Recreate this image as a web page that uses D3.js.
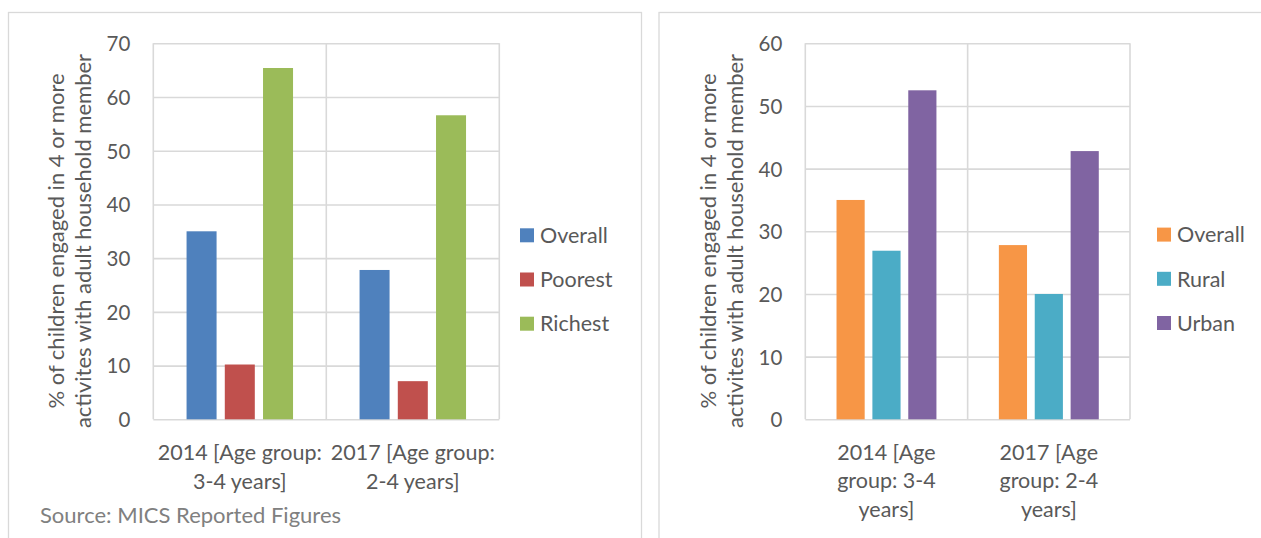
<!DOCTYPE html>
<html>
<head>
<meta charset="utf-8">
<script src="https://cdn.jsdelivr.net/npm/d3@7"></script>
<style>
  html, body { margin: 0; padding: 0; background: #ffffff; }
  svg { display: block; font-family: Lato, "Open Sans", sans-serif; }
</style>
</head>
<body>
<svg id="chart" width="1261" height="538"></svg>
<script>
// ---- Data -------------------------------------------------------------
const wealthCategories = ["2014", "2017"];
const wealthCategoryLines = [["2014 [Age group:", "3-4 years]"], ["2017 [Age group:", "2-4 years]"]];
const wealthSeriesNames = ["Overall", "Poorest", "Richest"];
const wealthOverall = [35.0, 27.8];
const wealthPoorest = [10.2, 7.1];
const wealthRichest = [65.4, 56.6];
const wealthTicks = [0, 10, 20, 30, 40, 50, 60, 70];

const areaCategories = ["2014", "2017"];
const areaCategoryLines = [["2014 [Age", "group: 3-4", "years]"], ["2017 [Age", "group: 2-4", "years]"]];
const areaSeriesNames = ["Overall", "Rural", "Urban"];
const areaOverall = [35.0, 27.8];
const areaRural = [26.9, 20.0];
const areaUrban = [52.5, 42.8];
const areaTicks = [0, 10, 20, 30, 40, 50, 60];

const yTitleLines = ["% of children engaged in 4 or more", "activites with adult household member"];
const sourceNote = "Source: MICS Reported Figures";

// ---- Styles -----------------------------------------------------------
const textColor = "#595959";
const gridColor = "#d9d9d9";
const tickSize = 20.5;
const labelSize = 21.5;
const titleSize = 22;

const svg = d3.select("#chart");

// Outer frames of the two panels
svg.append("rect").attr("x", 8.5).attr("y", 12.5).attr("width", 633).attr("height", 560)
  .attr("fill", "none").attr("stroke", gridColor).attr("stroke-width", 1.3);
svg.append("rect").attr("x", 659).attr("y", 12.5).attr("width", 640).attr("height", 560)
  .attr("fill", "none").attr("stroke", gridColor).attr("stroke-width", 1.3);

function drawPanel(cfg) {
  const g = svg.append("g");
  const { left, right, top, bottom } = cfg.box;

  const x0 = d3.scaleBand().domain(cfg.categories).range([left, right]).paddingInner(0).paddingOuter(0);
  const x1 = d3.scaleBand().domain(cfg.seriesNames).range([0, x0.bandwidth()])
    .paddingInner(0.215).paddingOuter(0.87);
  const y = d3.scaleLinear().domain([0, d3.max(cfg.ticks)]).range([bottom, top]);
  const color = d3.scaleOrdinal().domain(cfg.seriesNames).range(cfg.colors);

  // Horizontal gridlines with tick labels
  const yAxis = d3.axisLeft(y).tickValues(cfg.ticks).tickSize(-(right - left)).tickPadding(23)
    .tickFormat(d3.format("d"));
  const ya = g.append("g").attr("transform", `translate(${left},0)`).call(yAxis);
  ya.select(".domain").remove();
  ya.selectAll(".tick line").attr("stroke", gridColor).attr("stroke-width", 1.6);
  ya.selectAll(".tick text").attr("fill", textColor).attr("font-size", tickSize)
    .attr("font-family", "Lato, sans-serif").attr("x", -23).attr("dy", "0.36em");

  // Vertical gridlines at category boundaries
  const bounds = cfg.categories.map(c => x0(c)).concat([x0(cfg.categories[cfg.categories.length - 1]) + x0.bandwidth()]);
  g.append("g").selectAll("line").data(bounds).join("line")
    .attr("x1", d => d).attr("x2", d => d).attr("y1", top).attr("y2", bottom)
    .attr("stroke", gridColor).attr("stroke-width", 1.6);

  // Bars
  const groups = g.append("g").selectAll("g").data(cfg.categories).join("g")
    .attr("transform", d => `translate(${x0(d)},0)`);
  groups.selectAll("rect")
    .data((c, i) => cfg.seriesNames.map((s, k) => ({ s, v: cfg.values[k][i] })))
    .join("rect")
    .attr("x", d => x1(d.s)).attr("width", x1.bandwidth())
    .attr("y", d => y(d.v)).attr("height", d => y(0) - y(d.v))
    .attr("fill", d => color(d.s));

  // Category labels (wrapped)
  const cl = g.append("g").selectAll("text").data(cfg.categories).join("text")
    .attr("text-anchor", "middle").attr("fill", textColor).attr("font-size", labelSize)
    .attr("x", d => x0(d) + x0.bandwidth() / 2).attr("y", cfg.catBaseline);
  cl.each(function (d, i) {
    const t = d3.select(this);
    cfg.categoryLines[i].forEach((line, j) => {
      t.append("tspan").attr("x", x0(d) + x0.bandwidth() / 2)
        .attr("y", cfg.catBaseline + j * cfg.catLineGap).text(line);
    });
  });

  // Y axis title (two rotated lines)
  const yt = g.append("text").attr("fill", textColor).attr("font-size", titleSize)
    .attr("text-anchor", "middle")
    .attr("transform", `translate(0,${cfg.titleCenterY}) rotate(-90)`);
  cfg.titleLines.forEach((line, j) => {
    yt.append("tspan").attr("x", 0).attr("y", cfg.titleBaselines[j]).text(line);
  });

  // Legend
  const lg = g.append("g").selectAll("g").data(cfg.seriesNames).join("g")
    .attr("transform", (d, i) => `translate(${cfg.legendX},${cfg.legendY + i * 44.2})`);
  lg.append("rect").attr("x", 0).attr("y", -7).attr("width", 14).attr("height", 14)
    .attr("fill", d => color(d));
  lg.append("text").attr("x", 20).attr("y", 0).attr("dy", "0.36em")
    .attr("fill", textColor).attr("font-size", labelSize).text(d => d);
}

drawPanel({
  box: { left: 153.3, right: 499.3, top: 43.3, bottom: 419.3 },
  categories: wealthCategories,
  categoryLines: wealthCategoryLines,
  seriesNames: wealthSeriesNames,
  values: [wealthOverall, wealthPoorest, wealthRichest],
  colors: ["#4f81bd", "#c0504d", "#9bbb59"],
  ticks: wealthTicks,
  catBaseline: 460, catLineGap: 28.5,
  titleLines: yTitleLines, titleCenterY: 241, titleBaselines: [64, 91],
  legendX: 520, legendY: 235.3
});

drawPanel({
  box: { left: 805.3, right: 1130, top: 43.3, bottom: 419.3 },
  categories: areaCategories,
  categoryLines: areaCategoryLines,
  seriesNames: areaSeriesNames,
  values: [areaOverall, areaRural, areaUrban],
  colors: ["#f79646", "#4bacc6", "#8064a2"],
  ticks: areaTicks,
  catBaseline: 459.5, catLineGap: 28.6,
  titleLines: yTitleLines, titleCenterY: 241, titleBaselines: [716, 743],
  legendX: 1157, legendY: 234.6
});

// Source note
svg.append("text").attr("x", 40).attr("y", 523).attr("fill", "#808080")
  .attr("font-size", titleSize).text(sourceNote);
</script>
</body>
</html>
